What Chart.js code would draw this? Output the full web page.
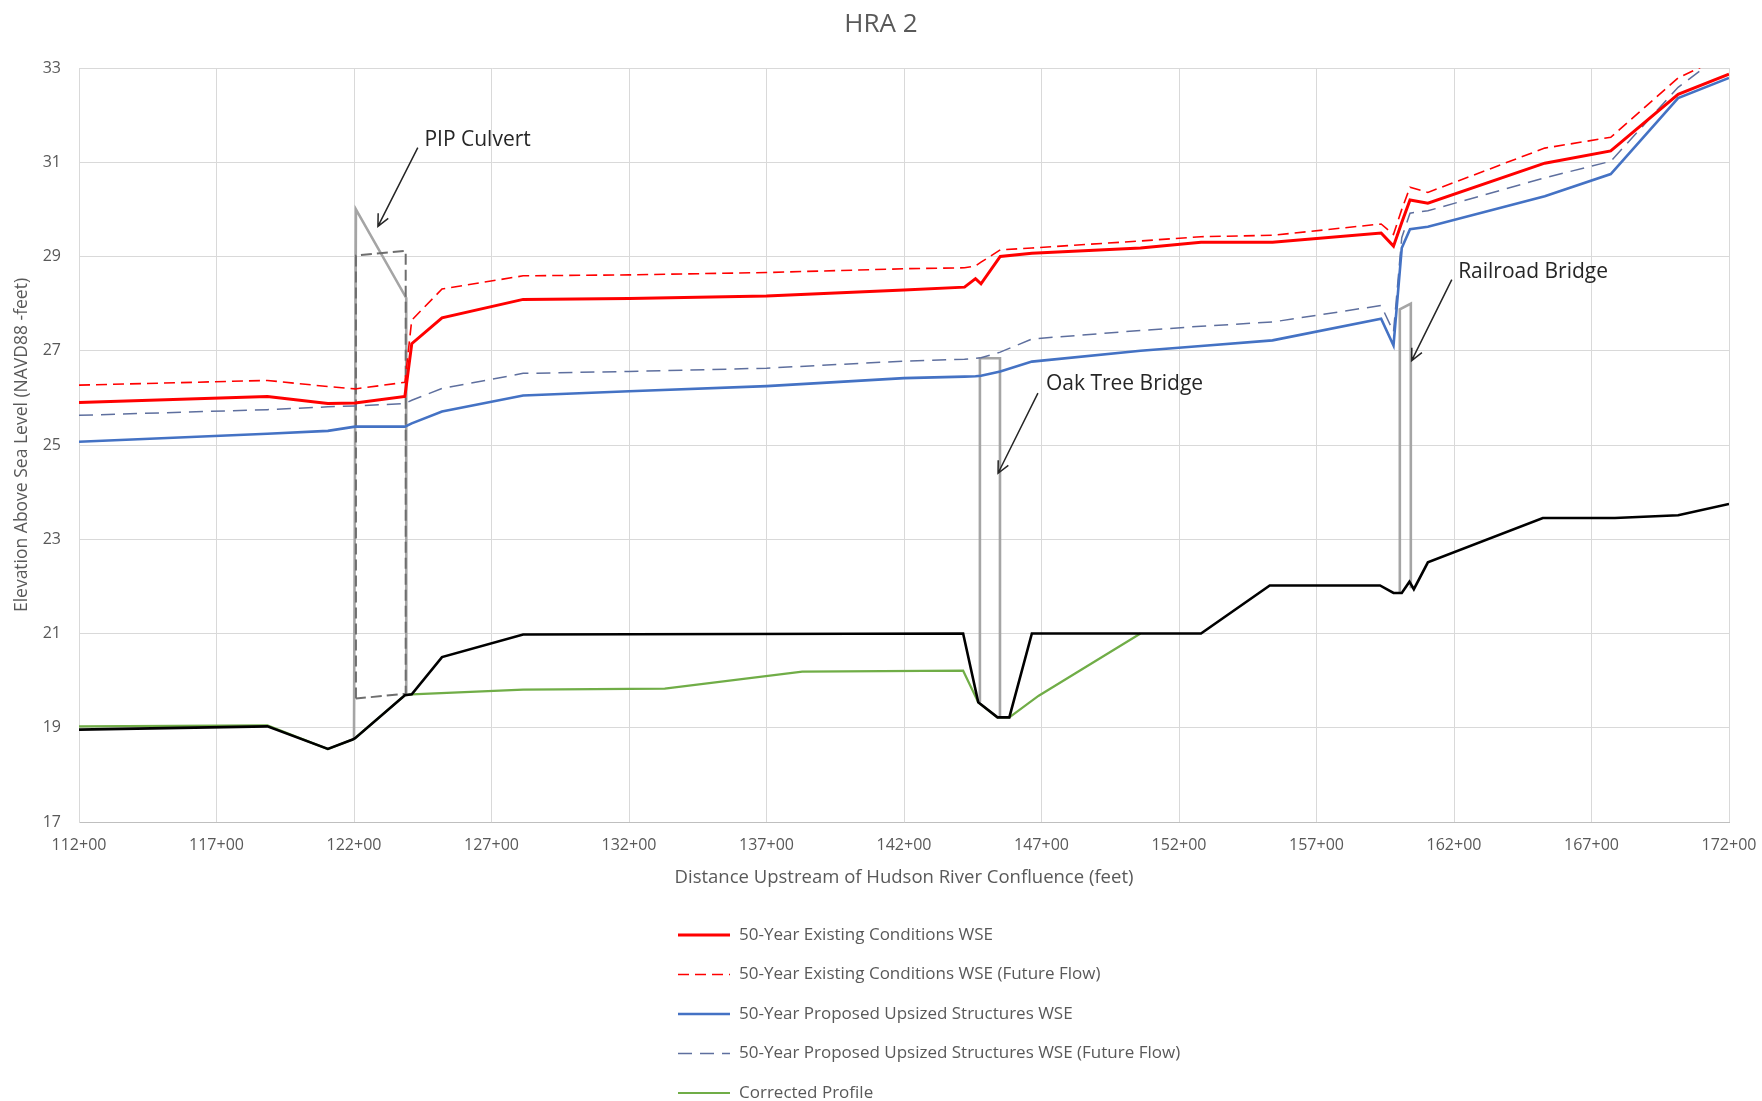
<!DOCTYPE html>
<html>
<head>
<meta charset="utf-8">
<title>HRA 2</title>
<script src="https://cdn.jsdelivr.net/npm/chart.js@4.4.0/dist/chart.umd.min.js"></script>
<style>
  body { margin: 0; background: #ffffff; }
  #wrap { width: 1762px; height: 1101px; }
</style>
</head>
<body>
<div id="wrap"><canvas id="myChart" width="1762" height="1101"></canvas></div>
<script>
'use strict';
// stations in feet (112+00 = 11200)
let wseStations = [11200, 11885, 12105, 12204, 12385, 12410, 12520, 12815, 13200, 13700, 14200, 14420, 14460, 14480,
  14550, 14665, 15060, 15280, 15540, 15935, 15980, 16010, 16040, 16105, 16530, 16770, 17015, 17200];
let existingWse = [25.90, 26.03, 25.88, 25.89, 26.03, 27.15, 27.70, 28.09, 28.11, 28.16, 28.29, 28.35, 28.53, 28.42,
  29.00, 29.07, 29.18, 29.30, 29.30, 29.50, 29.22, 29.72, 30.20, 30.13, 30.98, 31.24, 32.44, 32.87];
let existingFutureWse = [26.27, 26.37, 26.24, 26.19, 26.33, 27.65, 28.31, 28.59, 28.61, 28.66, 28.74, 28.76, 28.80, 28.88,
  29.14, 29.18, 29.33, 29.42, 29.45, 29.69, 29.47, 30.00, 30.47, 30.36, 31.30, 31.53, 32.79, 33.30];
let proposedWse = [25.07, 25.24, 25.30, 25.39, 25.39, 25.46, 25.71, 26.05, 26.14, 26.25, 26.42, 26.45, 26.46, 26.47,
  26.56, 26.77, 27.00, 27.10, 27.22, 27.68, 27.11, 29.18, 29.58, 29.63, 30.28, 30.75, 32.36, 32.79];
let proposedFutureWse = [25.63, 25.75, 25.81, 25.83, 25.88, 25.95, 26.20, 26.52, 26.56, 26.63, 26.78, 26.82, 26.84, 26.85,
  26.97, 27.25, 27.43, 27.52, 27.61, 27.96, 27.40, 29.40, 29.92, 29.97, 30.67, 31.02, 32.59, 33.40];

let bedStations = [11200, 11885, 12105, 12195, 12204, 12385, 12410, 12520, 12815, 14415, 14470, 14540, 14583, 14665,
  15280, 15530, 15931, 15980, 16010, 16038, 16054, 16105, 16523, 16785, 17015, 17200];
let bedElev = [18.96, 19.03, 18.55, 18.75, 18.78, 19.69, 19.71, 20.50, 20.98, 21.00, 19.54, 19.22, 19.22, 21.00,
  21.00, 22.02, 22.02, 21.86, 21.86, 22.10, 21.94, 22.51, 23.45, 23.45, 23.51, 23.75];

let correctedStations = [11200, 11885, 12105, 12195, 12204, 12385, 12410, 12815, 13330, 13830, 14415, 14470, 14540, 14583, 14690, 15060];
let correctedElev = [19.03, 19.05, 18.55, 18.75, 18.78, 19.69, 19.71, 19.81, 19.83, 20.19, 20.21, 19.54, 19.22, 19.22, 19.68, 21.00];

// structure outlines, null = break between structures
let existingStructX = [12200, 12207, 12390, 12390, 13000, 14476, 14476, 14549, 14549, 15500, 16003, 16003, 16043, 16043];
let existingStructY = [18.78, 30.00, 28.12, 19.72, null, 19.54, 26.84, 26.84, 19.22, null, 21.86, 27.88, 28.00, 21.96];
let proposedStructX = [12207, 12207, 12388, 12388, 12207];
let proposedStructY = [19.62, 29.02, 29.12, 19.72, 19.62];

let callouts = [
  {text: 'PIP Culvert', tx: 12456, ty: 31.48, fx: 12432, fy: 31.31, ax: 12287, ay: 29.64},
  {text: 'Oak Tree Bridge', tx: 14716, ty: 26.29, fx: 14687, fy: 26.10, ax: 14542, ay: 24.40},
  {text: 'Railroad Bridge', tx: 16215, ty: 28.67, fx: 16192, fy: 28.51, ax: 16046, ay: 26.79}
];

let chartTitle = 'HRA 2';
let textGray = '#595959';
let fontName = '"Open Sans", "Liberation Sans", sans-serif';

function pairs(xs, ys) {
  return xs.map(function (x, i) { return {x: x, y: ys[i]}; });
}

// title centred on the whole canvas, legend stacked in one column below the plot
let framePlugin = {
  id: 'frame',
  afterDraw(chart) {
    let ctx = chart.ctx;
    ctx.save();
    ctx.fillStyle = textGray;
    ctx.font = '26px ' + fontName;
    ctx.textAlign = 'center';
    ctx.textBaseline = 'middle';
    ctx.fillText(chartTitle, chart.width / 2, 25);
    ctx.restore();

    let top = chart.chartArea.bottom + 113;
    let row = 0;
    chart.data.datasets.forEach(function (ds) {
      if (!ds.inLegend) return;
      let y = top + row * 39.5;
      ctx.save();
      ctx.strokeStyle = ds.borderColor;
      ctx.lineWidth = ds.borderWidth;
      ctx.setLineDash(ds.borderDash || []);
      ctx.beginPath();
      ctx.moveTo(678, y);
      ctx.lineTo(730, y);
      ctx.stroke();
      ctx.setLineDash([]);
      ctx.fillStyle = textGray;
      ctx.font = '17px ' + fontName;
      ctx.textBaseline = 'middle';
      ctx.fillText(ds.label, 739, y);
      ctx.restore();
      row++;
    });
  }
};

let calloutPlugin = {
  id: 'callouts',
  afterDatasetsDraw(chart) {
    let ctx = chart.ctx;
    let xs = chart.scales.x, ys = chart.scales.y;
    callouts.forEach(function (c) {
      let tx = xs.getPixelForValue(c.tx), ty = ys.getPixelForValue(c.ty);
      let fx = xs.getPixelForValue(c.fx), fy = ys.getPixelForValue(c.fy);
      let ax = xs.getPixelForValue(c.ax), ay = ys.getPixelForValue(c.ay);
      ctx.save();
      ctx.fillStyle = '#262626';
      ctx.font = '21px ' + fontName;
      ctx.textBaseline = 'middle';
      ctx.fillText(c.text, tx, ty);
      ctx.strokeStyle = '#262626';
      ctx.lineWidth = 1.5;
      ctx.beginPath();
      ctx.moveTo(fx, fy);
      ctx.lineTo(ax, ay);
      let ang = Math.atan2(ay - fy, ax - fx);
      let len = 13;
      ctx.moveTo(ax - len * Math.cos(ang - 0.45), ay - len * Math.sin(ang - 0.45));
      ctx.lineTo(ax, ay);
      ctx.lineTo(ax - len * Math.cos(ang + 0.45), ay - len * Math.sin(ang + 0.45));
      ctx.stroke();
      ctx.restore();
    });
  }
};

let ctx = document.getElementById('myChart').getContext('2d');
let chart = new Chart(ctx, {
  type: 'line',
  data: {
    datasets: [{
      label: '50-Year Existing Conditions WSE',
      data: pairs(wseStations, existingWse),
      borderColor: '#FF0000', borderWidth: 3, order: 0, inLegend: true
    }, {
      label: '50-Year Existing Conditions WSE (Future Flow)',
      data: pairs(wseStations, existingFutureWse),
      borderColor: '#FF0000', borderWidth: 1.6, borderDash: [11, 6], order: 1, inLegend: true
    }, {
      label: '50-Year Proposed Upsized Structures WSE',
      data: pairs(wseStations, proposedWse),
      borderColor: '#4472C4', borderWidth: 2.6, order: 2, inLegend: true
    }, {
      label: '50-Year Proposed Upsized Structures WSE (Future Flow)',
      data: pairs(wseStations, proposedFutureWse),
      borderColor: '#5E6F9E', borderWidth: 1.5, borderDash: [14, 8], order: 3, inLegend: true
    }, {
      label: 'Corrected Profile',
      data: pairs(correctedStations, correctedElev),
      borderColor: '#70AD47', borderWidth: 2.2, order: 8, inLegend: true
    }, {
      label: 'Channel Invert',
      data: pairs(bedStations, bedElev),
      borderColor: '#000000', borderWidth: 2.6, order: 4
    }, {
      label: 'Existing Structures',
      data: pairs(existingStructX, existingStructY),
      borderColor: '#A5A5A5', borderWidth: 2.6, order: 6, spanGaps: false
    }, {
      label: 'Proposed Structures',
      data: pairs(proposedStructX, proposedStructY),
      borderColor: '#6E6E6E', borderWidth: 2, borderDash: [11, 5], order: 5
    }]
  },
  options: {
    responsive: false,
    animation: false,
    elements: {point: {radius: 0, hoverRadius: 0}, line: {tension: 0, fill: false}},
    layout: {padding: {left: 0, right: 33, top: 68, bottom: 207}},
    plugins: {
      legend: {display: false},
      tooltip: {enabled: false},
      title: {display: false}
    },
    scales: {
      x: {
        type: 'linear', min: 11200, max: 17200,
        ticks: {
          stepSize: 500, autoSkip: false, maxRotation: 0, padding: 14, color: textGray,
          font: {family: fontName, size: 16},
          callback: function (v) { return Math.round(v / 100) + '+00'; }
        },
        grid: {color: '#D9D9D9', drawTicks: false},
        border: {color: '#BFBFBF'},
        title: {
          display: true, text: 'Distance Upstream of Hudson River Confluence (feet)', color: textGray,
          font: {family: fontName, size: 18.5}, padding: {top: 0, bottom: 5}
        },
        afterFit: function (s) { s.height = 72; s.paddingLeft = 0; s.paddingRight = 0; }
      },
      y: {
        min: 17, max: 33,
        ticks: {stepSize: 2, padding: 18, color: textGray, font: {family: fontName, size: 16}},
        grid: {color: '#D9D9D9', drawTicks: false},
        border: {color: '#D9D9D9'},
        title: {
          display: true, text: 'Elevation Above Sea Level (NAVD88 -feet)', color: textGray,
          font: {family: fontName, size: 17.5}, padding: {top: 12, bottom: 0}
        },
        afterFit: function (s) { s.width = 79; s.paddingTop = 0; s.paddingBottom = 0; }
      }
    }
  },
  plugins: [framePlugin, calloutPlugin]
});
</script>
</body>
</html>
